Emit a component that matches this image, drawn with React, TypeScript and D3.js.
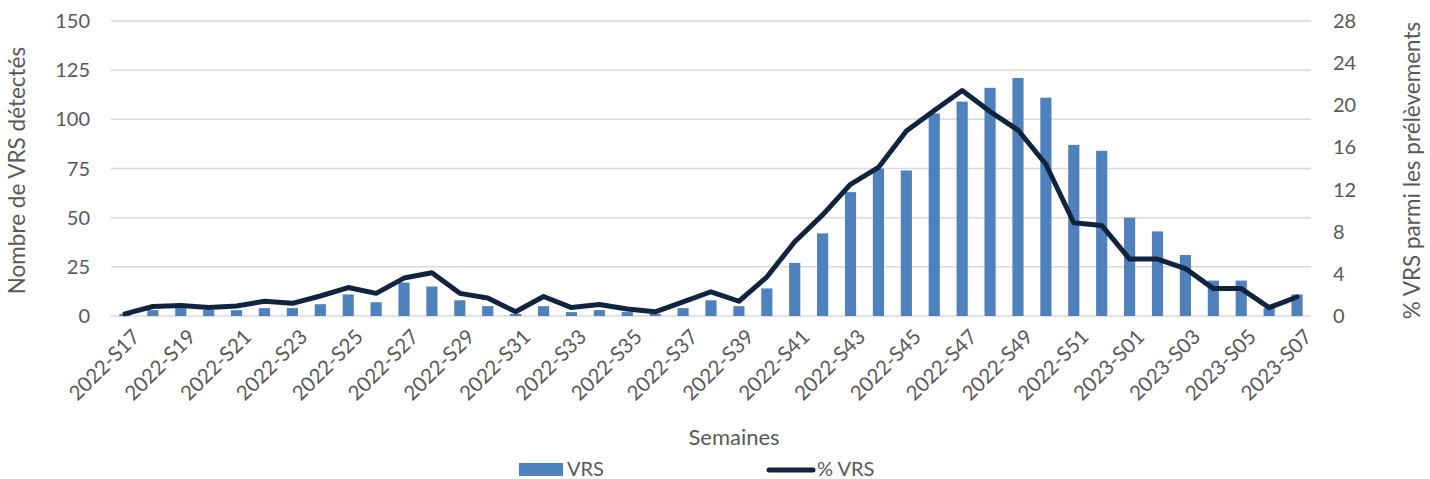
import * as d3 from "d3";

const weeks: string[] = [
  ...d3.range(17, 53).map((w) => `2022-S${String(w).padStart(2, "0")}`),
  ...d3.range(1, 8).map((w) => `2023-S${String(w).padStart(2, "0")}`),
];

// nombre de VRS détectés par semaine
const vrsCounts = [
  1, 3, 4, 3, 3, 4, 4, 6, 11, 7, 17, 15,
  8, 5, 1, 5, 2, 3, 2, 1, 4, 8, 5, 14,
  27, 42, 63, 75, 74, 103, 109, 116, 121, 111, 87, 84,
  50, 43, 31, 18, 18, 4, 11,
];

// % VRS parmi les prélèvements
const vrsPct = [
  0.2, 0.9, 1.0, 0.8, 0.95, 1.4, 1.2, 1.9, 2.7, 2.15, 3.6, 4.1,
  2.15, 1.7, 0.4, 1.85, 0.8, 1.1, 0.67, 0.4, 1.35, 2.3, 1.4, 3.7,
  7.05, 9.6, 12.5, 14.1, 17.55, 19.5, 21.4, 19.4, 17.65, 14.4, 8.85, 8.6,
  5.4, 5.4, 4.5, 2.6, 2.6, 0.8, 1.8,
];

const leftTicks = [0, 25, 50, 75, 100, 125, 150];
const rightTicks = [0, 4, 8, 12, 16, 20, 24, 28];

const W = 1430;
const H = 479;
const M = { left: 111, right: 1311, top: 21, bottom: 316 };
const FONT = "Lato, 'Open Sans', sans-serif";
const GREY = "#595959";
const BAR = "#4f81bd";
const LINE = "#10243f";

export default function App() {
  const x = d3.scalePoint<string>().domain(weeks).range([M.left, M.right]).padding(0.5);
  const yL = d3.scaleLinear().domain([0, 150]).range([M.bottom, M.top]);
  const yR = d3.scaleLinear().domain([0, 28]).range([M.bottom, M.top]);
  const barW = x.step() * 0.4;

  const line = d3
    .line<number>()
    .x((_, i) => x(weeks[i])!)
    .y((d) => yR(d));

  return (
    <div style={{ position: "fixed", left: 0, top: 0 }}>
      <svg width={W} height={H} style={{ display: "block", background: "#fff" }} fontFamily={FONT}>
        {leftTicks.map((t) => (
          <g key={t}>
            <line x1={M.left} x2={M.right} y1={yL(t)} y2={yL(t)} stroke="#d9d9d9" strokeWidth={1.5} />
            <text x={90} y={yL(t)} dy="0.35em" textAnchor="end" fontSize={20} fill={GREY}>
              {t}
            </text>
          </g>
        ))}
        {rightTicks.map((t) => (
          <text key={t} x={1333} y={yR(t)} dy="0.35em" fontSize={20} fill={GREY}>
            {t}
          </text>
        ))}

        {vrsCounts.map((v, i) => (
          <rect
            key={i}
            x={x(weeks[i])! - barW / 2}
            y={yL(v)}
            width={barW}
            height={yL(0) - yL(v)}
            fill={BAR}
          />
        ))}

        <path d={line(vrsPct) ?? ""} fill="none" stroke={LINE} strokeWidth={5} strokeLinejoin="round" strokeLinecap="round" />

        {weeks.map((w, i) =>
          i % 2 === 0 ? (
            <text
              key={w}
              transform={`translate(${x(w)! + 6},${M.bottom + 12}) rotate(-45)`}
              textAnchor="end"
              dy="0.7em"
              fontSize={20.5}
              fill={GREY}
            >
              {w}
            </text>
          ) : null
        )}

        <text transform={`translate(25,${(M.top + M.bottom) / 2 + 2}) rotate(-90)`} textAnchor="middle" fontSize={22.5} fill={GREY}>
          Nombre de VRS détectés
        </text>
        <text transform={`translate(1420,${(M.top + M.bottom) / 2 + 2}) rotate(-90)`} textAnchor="middle" fontSize={22.5} fill={GREY}>
          % VRS parmi les prélèvements
        </text>
        <text x={734} y={445} textAnchor="middle" fontSize={22} fill={GREY}>
          Semaines
        </text>

        <rect x={519} y={463} width={44} height={13} fill={BAR} />
        <text x={567} y={476} fontSize={20} fill={GREY}>
          VRS
        </text>
        <line x1={769} x2={813} y1={470} y2={470} stroke={LINE} strokeWidth={5} strokeLinecap="round" />
        <text x={817} y={476} fontSize={20} fill={GREY}>
          % VRS
        </text>
      </svg>
    </div>
  );
}
